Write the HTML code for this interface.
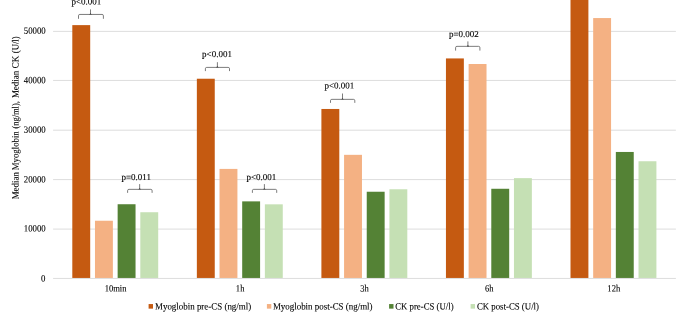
<!DOCTYPE html>
<html><head><meta charset="utf-8"><title>Chart</title>
<style>html,body{margin:0;padding:0;background:#fff}svg{display:block}</style></head>
<body>
<svg width="685" height="319" viewBox="0 0 685 319" font-family="'Liberation Serif', serif" font-size="9.6" fill="#000">
<rect width="685" height="319" fill="#fff"/>
<line x1="53.1" x2="675.9" y1="278.45" y2="278.45" stroke="#D9D9D9" stroke-width="0.9"/>
<text transform="translate(45.40,281.40) rotate(0.03) scale(0.915,1)" font-size="9.6" text-anchor="end" stroke="#000" stroke-width="0.1">0</text>
<line x1="53.1" x2="675.9" y1="229.10" y2="229.10" stroke="#D9D9D9" stroke-width="0.9"/>
<text transform="translate(45.70,231.50) rotate(0.03) scale(0.915,1)" font-size="9.6" text-anchor="end" stroke="#000" stroke-width="0.1">10000</text>
<line x1="53.1" x2="675.9" y1="179.60" y2="179.60" stroke="#D9D9D9" stroke-width="0.9"/>
<text transform="translate(45.70,182.40) rotate(0.03) scale(0.915,1)" font-size="9.6" text-anchor="end" stroke="#000" stroke-width="0.1">20000</text>
<line x1="53.1" x2="675.9" y1="130.20" y2="130.20" stroke="#D9D9D9" stroke-width="0.9"/>
<text transform="translate(45.70,132.85) rotate(0.03) scale(0.915,1)" font-size="9.6" text-anchor="end" stroke="#000" stroke-width="0.1">30000</text>
<line x1="53.1" x2="675.9" y1="80.45" y2="80.45" stroke="#D9D9D9" stroke-width="0.9"/>
<text transform="translate(45.70,83.20) rotate(0.03) scale(0.915,1)" font-size="9.6" text-anchor="end" stroke="#000" stroke-width="0.1">40000</text>
<line x1="53.1" x2="675.9" y1="31.40" y2="31.40" stroke="#D9D9D9" stroke-width="0.9"/>
<text transform="translate(45.70,33.80) rotate(0.03) scale(0.915,1)" font-size="9.6" text-anchor="end" stroke="#000" stroke-width="0.1">50000</text>
<rect x="72.30" y="25.12" width="17.9" height="252.83" fill="#C55A11"/>
<rect x="94.97" y="220.74" width="17.9" height="57.21" fill="#F4B183"/>
<rect x="117.64" y="204.24" width="17.9" height="73.71" fill="#548235"/>
<rect x="140.31" y="212.24" width="17.9" height="65.71" fill="#C5E0B4"/>
<text transform="translate(115.58,291.50) rotate(0.03) scale(0.89,1)" font-size="9.6" text-anchor="middle" stroke="#000" stroke-width="0.1">10min</text>
<rect x="196.85" y="78.73" width="17.9" height="199.22" fill="#C55A11"/>
<rect x="219.52" y="168.91" width="17.9" height="109.04" fill="#F4B183"/>
<rect x="242.19" y="201.37" width="17.9" height="76.58" fill="#548235"/>
<rect x="264.86" y="204.33" width="17.9" height="73.62" fill="#C5E0B4"/>
<text transform="translate(240.12,291.50) rotate(0.03) scale(0.89,1)" font-size="9.6" text-anchor="middle" stroke="#000" stroke-width="0.1">1h</text>
<rect x="321.40" y="108.97" width="17.9" height="168.98" fill="#C55A11"/>
<rect x="344.07" y="154.83" width="17.9" height="123.12" fill="#F4B183"/>
<rect x="366.74" y="191.74" width="17.9" height="86.21" fill="#548235"/>
<rect x="389.41" y="189.26" width="17.9" height="88.69" fill="#C5E0B4"/>
<text transform="translate(364.43,291.50) rotate(0.03) scale(0.89,1)" font-size="9.6" text-anchor="middle" stroke="#000" stroke-width="0.1">3h</text>
<rect x="445.95" y="58.43" width="17.9" height="219.52" fill="#C55A11"/>
<rect x="468.62" y="64.01" width="17.9" height="213.94" fill="#F4B183"/>
<rect x="491.29" y="188.77" width="17.9" height="89.18" fill="#548235"/>
<rect x="513.96" y="178.15" width="17.9" height="99.80" fill="#C5E0B4"/>
<text transform="translate(489.23,291.50) rotate(0.03) scale(0.89,1)" font-size="9.6" text-anchor="middle" stroke="#000" stroke-width="0.1">6h</text>
<rect x="570.50" y="-18.01" width="17.9" height="295.96" fill="#C55A11"/>
<rect x="593.17" y="18.06" width="17.9" height="259.89" fill="#F4B183"/>
<rect x="615.84" y="151.96" width="17.9" height="125.99" fill="#548235"/>
<rect x="638.51" y="161.25" width="17.9" height="116.70" fill="#C5E0B4"/>
<text transform="translate(613.78,291.50) rotate(0.03) scale(0.89,1)" font-size="9.6" text-anchor="middle" stroke="#000" stroke-width="0.1">12h</text>
<text transform="translate(18.50,199.35) rotate(-89.97) scale(0.9303,1)" font-size="9.6" stroke="#000" stroke-width="0.1">Median</text>
<text transform="translate(18.50,170.25) rotate(-89.97) scale(0.9158,1)" font-size="9.6" stroke="#000" stroke-width="0.1">Myoglobin</text>
<text transform="translate(18.50,128.56) rotate(-89.97) scale(0.881,1)" font-size="9.6" stroke="#000" stroke-width="0.1">(ng/ml),</text>
<text transform="translate(18.50,98.10) rotate(-89.97) scale(0.9355,1)" font-size="9.6" stroke="#000" stroke-width="0.1">Median</text>
<text transform="translate(18.50,68.32) rotate(-89.97) scale(0.9303,1)" font-size="9.6" stroke="#000" stroke-width="0.1">CK</text>
<text transform="translate(18.50,53.17) rotate(-89.97) scale(0.9026,1)" font-size="9.6" stroke="#000" stroke-width="0.1">(U/l)</text>
<rect x="148.6" y="304.05" width="4.4" height="4.6" fill="#C55A11"/>
<text transform="translate(155.00,309.45) rotate(0.03) scale(0.93,1)" font-size="9.6" stroke="#000" stroke-width="0.1">Myoglobin pre-CS (ng/ml)</text>
<rect x="266.9" y="304.05" width="4.4" height="4.6" fill="#F4B183"/>
<text transform="translate(272.90,309.45) rotate(0.03) scale(0.93,1)" font-size="9.6" stroke="#000" stroke-width="0.1">Myoglobin post-CS (ng/ml)</text>
<rect x="389.1" y="304.05" width="4.4" height="4.6" fill="#548235"/>
<text transform="translate(395.20,309.45) rotate(0.03) scale(0.914,1)" font-size="9.6" stroke="#000" stroke-width="0.1">CK pre-CS (U/l)</text>
<rect x="470.6" y="304.05" width="4.4" height="4.6" fill="#C5E0B4"/>
<text transform="translate(476.90,309.45) rotate(0.03) scale(0.917,1)" font-size="9.6" stroke="#000" stroke-width="0.1">CK post-CS (U/l)</text>
<path d="M78.5,18.80 V15.75 Q78.5,14.45 79.80,14.45 H102.10 Q103.4,14.45 103.4,15.75 V18.80 M90.5,14.45 V9.40 M89.60,14.45 Q90.5,14.45 90.5,13.55 Q90.5,14.45 91.40,14.45" fill="none" stroke="#444" stroke-width="0.7"/>
<text transform="translate(86.45,4.55) rotate(0.03)" font-size="9.0" text-anchor="middle" stroke="#000" stroke-width="0.1">p&lt;0.001</text>
<path d="M205.4,71.10 V68.70 Q205.4,67.4 206.70,67.4 H228.20 Q229.5,67.4 229.5,68.70 V71.10 M217.4,67.4 V62.20 M216.50,67.4 Q217.4,67.4 217.4,66.50 Q217.4,67.4 218.30,67.4" fill="none" stroke="#444" stroke-width="0.7"/>
<text transform="translate(217.00,56.90) rotate(0.03)" font-size="9.0" text-anchor="middle" stroke="#000" stroke-width="0.1">p&lt;0.001</text>
<path d="M330.5,102.85 V100.65 Q330.5,99.35 331.80,99.35 H353.50 Q354.8,99.35 354.8,100.65 V102.85 M342.5,99.35 V93.50 M341.60,99.35 Q342.5,99.35 342.5,98.45 Q342.5,99.35 343.40,99.35" fill="none" stroke="#444" stroke-width="0.7"/>
<text transform="translate(339.30,88.60) rotate(0.03)" font-size="9.0" text-anchor="middle" stroke="#000" stroke-width="0.1">p&lt;0.001</text>
<path d="M455.6,50.60 V47.65 Q455.6,46.35 456.90,46.35 H478.60 Q479.9,46.35 479.9,47.65 V50.60 M467.9,46.35 V41.40 M467.00,46.35 Q467.9,46.35 467.9,45.45 Q467.9,46.35 468.80,46.35" fill="none" stroke="#444" stroke-width="0.7"/>
<text transform="translate(463.90,37.00) rotate(0.03)" font-size="9.0" text-anchor="middle" stroke="#000" stroke-width="0.1">p=0.002</text>
<path d="M127.6,192.85 V190.65 Q127.6,189.35 128.90,189.35 H150.80 Q152.1,189.35 152.1,190.65 V192.85 M139.65,189.35 V184.10 M138.75,189.35 Q139.65,189.35 139.65,188.45 Q139.65,189.35 140.55,189.35" fill="none" stroke="#444" stroke-width="0.7"/>
<text transform="translate(136.20,180.00) rotate(0.03)" font-size="9.0" text-anchor="middle" stroke="#000" stroke-width="0.1">p=0.011</text>
<path d="M252.4,192.85 V190.65 Q252.4,189.35 253.70,189.35 H275.40 Q276.7,189.35 276.7,190.65 V192.85 M264.4,189.35 V184.10 M263.50,189.35 Q264.4,189.35 264.4,188.45 Q264.4,189.35 265.30,189.35" fill="none" stroke="#444" stroke-width="0.7"/>
<text transform="translate(261.30,180.10) rotate(0.03)" font-size="9.0" text-anchor="middle" stroke="#000" stroke-width="0.1">p&lt;0.001</text>
</svg>
</body></html>
